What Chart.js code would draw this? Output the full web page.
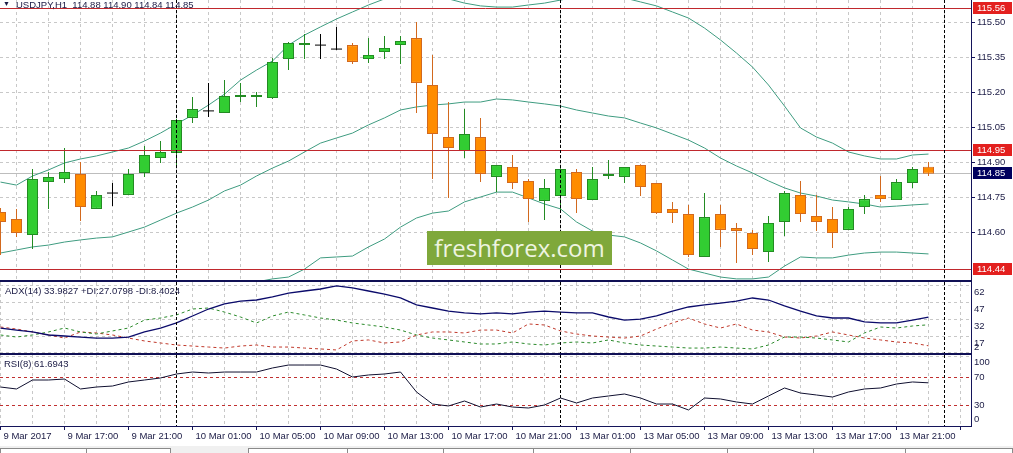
<!DOCTYPE html>
<html>
<head>
<meta charset="utf-8">
<title>USDJPY H1</title>
<script src="https://cdn.jsdelivr.net/npm/chart.js@4/dist/chart.umd.min.js"></script>
<style>
  html, body { margin: 0; padding: 0; background: #fff; }
  #wrap { position: relative; width: 1013px; height: 453px; overflow: hidden; background: #fff;
          font-family: "Liberation Sans", Arial, sans-serif; color: #1b1b45; }
  canvas { position: absolute; left: 0; }
  .txt { position: absolute; font-size: 9.5px; line-height: 12px; white-space: pre; }
  .sep { position: absolute; left: 0; width: 972px; height: 2px; background: #101055; }
  #mark { position: absolute; left: 427px; top: 231px; width: 185px; height: 34px; background: #7fa83b;
          color: #eef4e0; font: 24px "Open Sans", sans-serif; line-height: 33px; text-align: center; }
  #tabs { position: absolute; left: 0; top: 446px; width: 1013px; height: 7px; background: #f0f0f0; }
  .tab { position: absolute; top: 2px; height: 8px; border: 1px solid #8a8a8a; border-bottom: none; background: #fff; box-sizing: border-box; }
</style>
</head>
<body>
<div id="wrap">
  <canvas id="main" width="1013" height="280" style="top:0"></canvas>
  <canvas id="adx" width="1013" height="72" style="top:282px"></canvas>
  <canvas id="rsi" width="1013" height="90" style="top:355px"></canvas>
  <div class="sep" style="top:280px"></div>
  <div class="sep" style="top:353px"></div>
  <div class="txt" style="left:3px;top:-2px;font-size:7px">▼</div>
  <div class="txt" style="left:16px;top:-1px">USDJPY,H1  114.88 114.90 114.84 114.85</div>
  <div class="txt" style="left:5px;top:285px">ADX(14) 33.9827 +DI:27.0798 -DI:8.4024</div>
  <div class="txt" style="left:4px;top:358px">RSI(8) 61.6943</div>
  <div id="mark">freshforex.com</div>
  <div id="tabs">
    <div class="tab" style="left:0;width:87px"></div>
    <div class="tab" style="left:86px;width:85px"></div>
    <div class="tab" style="left:248px;width:100px"></div>
    <div class="tab" style="left:347px;width:97px"></div>
    <div class="tab" style="left:443px;width:91px"></div>
    <div class="tab" style="left:533px;width:98px"></div>
    <div class="tab" style="left:630px;width:98px"></div>
    <div class="tab" style="left:727px;width:87px"></div>
    <div class="tab" style="left:813px;width:93px"></div>
    <div class="tab" style="left:905px;width:108px"></div>
  </div>
</div>
<script>
// bars: 9 Mar 13:00 ... 13 Mar 23:00 (H1), one tick label every 4 bars
const xTickLabels = ["9 Mar 2017", "9 Mar 17:00", "9 Mar 21:00", "10 Mar 01:00", "10 Mar 05:00",
  "10 Mar 09:00", "10 Mar 13:00", "10 Mar 17:00", "10 Mar 21:00", "13 Mar 01:00", "13 Mar 05:00",
  "13 Mar 09:00", "13 Mar 13:00", "13 Mar 17:00", "13 Mar 21:00"];
const daySeparators = [11, 35, 59];

const opens = [114.686,114.656,114.587,114.814,114.827,114.849,114.699,114.767,114.759,114.853,114.917,114.939,115.089,115.119,115.110,115.179,115.179,115.174,115.341,115.401,115.401,115.384,115.401,115.341,115.371,115.401,115.431,115.230,115.007,114.947,115.007,114.836,114.879,114.819,114.733,114.754,114.857,114.737,114.840,114.836,114.887,114.810,114.699,114.677,114.493,114.677,114.617,114.596,114.514,114.643,114.759,114.669,114.656,114.609,114.707,114.759,114.737,114.810,114.880];
const highs = [114.703,114.699,114.870,114.857,114.960,114.900,114.776,114.810,114.870,114.969,114.990,115.085,115.179,115.239,115.251,115.239,115.200,115.346,115.414,115.449,115.449,115.479,115.410,115.431,115.440,115.440,115.500,115.359,115.157,115.127,115.089,114.887,114.930,114.827,114.827,114.873,114.870,114.879,114.909,114.879,114.890,114.810,114.729,114.716,114.767,114.716,114.639,114.609,114.669,114.776,114.819,114.759,114.707,114.707,114.759,114.840,114.827,114.879,114.900];
const lows = [114.501,114.579,114.527,114.699,114.810,114.647,114.699,114.711,114.757,114.836,114.896,114.874,115.067,115.093,115.110,115.157,115.136,115.170,115.294,115.341,115.341,115.380,115.320,115.324,115.341,115.320,115.110,114.827,114.746,114.917,114.814,114.771,114.784,114.643,114.651,114.694,114.681,114.737,114.827,114.810,114.754,114.677,114.639,114.493,114.493,114.536,114.467,114.501,114.471,114.583,114.643,114.604,114.531,114.609,114.677,114.729,114.737,114.789,114.840];
const closes = [114.643,114.596,114.827,114.836,114.857,114.707,114.759,114.767,114.849,114.930,114.943,115.080,115.127,115.119,115.183,115.187,115.187,115.329,115.410,115.410,115.401,115.384,115.329,115.359,115.389,115.419,115.239,115.020,114.960,115.020,114.849,114.887,114.810,114.741,114.789,114.870,114.741,114.827,114.849,114.879,114.793,114.681,114.681,114.501,114.664,114.609,114.604,114.527,114.639,114.767,114.677,114.643,114.596,114.699,114.741,114.741,114.814,114.870,114.850];

const bbUpper = [114.814,114.801,114.840,114.866,114.896,114.913,114.926,114.943,114.960,114.990,115.024,115.063,115.101,115.144,115.191,115.251,115.294,115.333,115.401,115.444,115.479,115.513,115.543,115.573,115.599,115.620,115.629,115.620,115.599,115.581,115.569,115.564,115.564,115.573,115.581,115.594,115.607,115.616,115.611,115.603,115.586,115.569,115.543,115.517,115.474,115.423,115.367,115.307,115.230,115.140,115.046,115.007,114.981,114.943,114.926,114.913,114.913,114.930,114.934];
const bbMiddle = [114.510,114.523,114.536,114.544,114.557,114.566,114.574,114.579,114.600,114.621,114.651,114.681,114.707,114.737,114.776,114.801,114.840,114.874,114.904,114.943,114.981,115.003,115.024,115.059,115.089,115.123,115.136,115.144,115.149,115.157,115.157,115.170,115.166,115.157,115.149,115.140,115.123,115.110,115.097,115.089,115.067,115.046,115.020,114.994,114.960,114.917,114.883,114.853,114.819,114.789,114.767,114.754,114.737,114.729,114.720,114.707,114.711,114.716,114.720];
const bbLower = [114.206,114.244,114.231,114.223,114.219,114.219,114.223,114.214,114.240,114.253,114.279,114.300,114.313,114.330,114.351,114.360,114.386,114.399,114.407,114.441,114.489,114.493,114.497,114.536,114.570,114.621,114.660,114.681,114.690,114.729,114.750,114.771,114.771,114.746,114.720,114.699,114.643,114.604,114.587,114.579,114.553,114.519,114.480,114.441,114.424,114.407,114.399,114.399,114.407,114.454,114.493,114.489,114.489,114.501,114.510,114.514,114.514,114.510,114.506];

const adxMain = [24.2,22.4,20.7,18.0,17.1,16.2,15.3,15.3,16.2,20.7,24.2,28.7,34.9,41.1,45.6,48.2,49.1,51.8,55.3,57.1,58.9,61.6,59.8,57.1,54.4,50.9,44.7,42.0,39.3,37.6,36.7,37.6,36.7,38.4,39.3,38.4,37.6,37.6,34.0,31.3,32.2,34.9,39.3,42.9,44.7,46.4,48.2,50.9,49.1,43.8,39.3,34.9,33.1,33.1,29.6,28.7,28.7,31.3,33.98];
const plusDI = [18.0,16.2,18.0,20.7,24.2,20.7,18.9,21.6,24.2,31.3,33.1,35.8,41.1,42.0,38.4,34.0,28.7,34.9,38.4,35.8,33.1,31.3,28.7,26.9,25.1,22.4,18.0,15.3,13.6,11.8,10.0,10.0,11.8,10.0,9.1,10.9,11.8,10.9,13.6,10.9,9.1,8.2,7.3,6.4,6.4,7.3,6.4,5.6,9.1,16.2,16.2,15.3,13.6,11.8,19.8,25.1,24.2,26.0,27.08];
const minusDI = [25.1,23.3,20.7,18.0,15.3,20.7,19.8,18.0,15.3,12.7,10.9,9.1,8.2,7.3,6.4,8.2,9.1,7.3,7.3,6.4,5.6,4.7,12.7,13.6,10.9,11.8,18.0,20.7,20.7,19.8,22.4,22.4,19.8,27.8,26.9,21.6,18.9,17.1,16.2,15.3,17.1,23.3,28.7,33.1,27.8,24.2,27.8,22.4,20.7,16.2,15.3,17.1,20.7,18.0,15.3,13.6,11.8,10.9,8.40];
const rsi = [55.7,52.9,65.7,65.7,67.1,52.9,55.7,57.1,62.9,65.7,68.6,74.3,77.1,75.7,77.1,77.1,77.1,82.9,87.1,87.1,87.1,81.4,70.0,72.9,74.3,77.1,48.6,31.4,28.6,35.7,27.1,31.4,27.1,25.7,30.0,40.0,32.9,40.0,42.9,45.7,40.0,31.4,31.4,22.9,40.0,38.6,34.3,31.4,42.9,54.3,47.1,44.3,41.4,48.6,52.9,54.3,60.0,62.9,61.69];

const priceTicks = [115.50, 115.35, 115.20, 115.05, 114.90, 114.75, 114.60];
const levelLines = [115.56, 114.95, 114.44];
const lastPrice = 114.85;
const adxTicks = [62, 47, 32, 17, 2];
const rsiTicks = [100, 70, 30, 0];
const rsiLevels = [70, 30];

const NAVY = "#14145a", GRID = "#c8c8c8", TXT = "#1b1b45";
const UP_FILL = "#32cd32", UP_LINE = "#238b23", DN_FILL = "#ff8c00", DN_LINE = "#d2691e";
const BAND = "#3f9c80", LEVEL = "#c0282d";
const FONT = { family: '"Liberation Sans", Arial, sans-serif', size: 9.5 };
const CSS_FONT = '9.5px "Liberation Sans", Arial, sans-serif';
const X_MIN = -1 / 32, X_MAX = X_MIN + 971 / 16;

const idx = opens.map((_, i) => i);
const pts = arr => arr.map((v, i) => ({ x: i, y: v }));
const bodyIdx = idx.filter(i => opens[i] !== closes[i]);
const dojiIdx = idx.filter(i => opens[i] === closes[i]);

function xAxis(withLabels) {
  return {
    type: "linear", min: X_MIN, max: X_MAX, offset: false,
    afterBuildTicks: s => { s.ticks = []; for (let v = 0; v <= 60; v += 2) s.ticks.push({ value: v }); },
    afterFit: s => { s.height = withLabels ? 19 : 0; s.paddingLeft = 0; s.paddingRight = 0; },
    grid: { color: GRID, drawTicks: withLabels, tickLength: 4, tickBorderDash: [],
            tickColor: c => (c.tick && c.tick.value % 4 === 0) ? NAVY : "rgba(0,0,0,0)" },
    border: { display: withLabels, color: NAVY, width: 1, dash: [3, 3] },
    ticks: { display: withLabels, autoSkip: false, maxRotation: 0, minRotation: 0, align: "start",
             labelOffset: 3, padding: 1, color: TXT, font: FONT,
             callback: v => (v % 4 === 0 && xTickLabels[v / 4]) ? xTickLabels[v / 4] : "" }
  };
}

function rightAxis(min, max, ticks, showLabels) {
  return {
    type: "linear", position: "right", min: min, max: max,
    afterBuildTicks: s => { s.ticks = ticks.map(v => ({ value: v })); },
    afterFit: s => { s.width = 42; s.paddingTop = 0; s.paddingBottom = 0; },
    grid: { color: GRID, drawTicks: showLabels, tickLength: 4, tickColor: NAVY, tickBorderDash: [] },
    border: { display: true, color: NAVY, width: 1, dash: [3, 3] },
    ticks: { display: showLabels, padding: 2, color: TXT, font: FONT, callback: v => v.toFixed(2) }
  };
}

function hline(ctx, a, py, color, dash) {
  const yy = Math.floor(py) + 0.5;
  ctx.save();
  ctx.strokeStyle = color; ctx.lineWidth = 1; ctx.setLineDash(dash);
  ctx.beginPath(); ctx.moveTo(a.left, yy); ctx.lineTo(a.right, yy); ctx.stroke();
  ctx.restore();
}

function drawSeparators(chart) {
  const { ctx, chartArea: a, scales: { x } } = chart;
  ctx.save();
  ctx.strokeStyle = "#000"; ctx.lineWidth = 1; ctx.setLineDash([3, 2]);
  daySeparators.forEach(i => {
    const px = Math.floor(x.getPixelForValue(i)) + 0.5;
    if (px > a.right) return;
    ctx.beginPath(); ctx.moveTo(px, a.top); ctx.lineTo(px, a.bottom); ctx.stroke();
  });
  ctx.restore();
}

function priceBox(ctx, a, py, v, bg) {
  const yy = Math.floor(py);
  ctx.save();
  ctx.fillStyle = bg; ctx.fillRect(a.right + 2, yy - 6, 39, 12);
  ctx.fillStyle = "#fff"; ctx.font = CSS_FONT; ctx.textBaseline = "middle"; ctx.textAlign = "left";
  ctx.fillText(v.toFixed(2), a.right + 6, yy + 0.5);
  ctx.restore();
}

function sideLabels(values, dy) {
  return {
    id: "sideLabels",
    afterDraw(chart) {
      const { ctx, chartArea: a, scales: { y } } = chart;
      ctx.save();
      ctx.fillStyle = TXT; ctx.font = CSS_FONT; ctx.textBaseline = "middle"; ctx.textAlign = "left";
      values.forEach(v => {
        let py = y.getPixelForValue(v) + dy;
        py = Math.min(Math.max(py, a.top + 7), a.bottom - 7);
        ctx.fillText(String(v), a.right + 3, py);
      });
      ctx.restore();
    }
  };
}

const common = {
  responsive: false, animation: false, events: [],
  layout: { padding: 0, autoPadding: false },
  plugins: { legend: { display: false }, tooltip: { enabled: false }, title: { display: false } }
};

// Main price panel
const mainOverlay = {
  id: "mainOverlay",
  beforeDatasetsDraw(chart) {
    const { ctx, chartArea: a, scales: { y } } = chart;
    hline(ctx, a, y.getPixelForValue(lastPrice), "#bdbdbd", []);
  },
  afterDatasetsDraw(chart) {
    const { ctx, chartArea: a, scales: { y } } = chart;
    levelLines.forEach(v => hline(ctx, a, y.getPixelForValue(v), LEVEL, []));
    drawSeparators(chart);
  },
  afterDraw(chart) {
    const { ctx, chartArea: a, scales: { y } } = chart;
    levelLines.forEach(v => priceBox(ctx, a, y.getPixelForValue(v), v, "#e3201f"));
    priceBox(ctx, a, y.getPixelForValue(lastPrice), lastPrice, "#00005e");
  }
};

new Chart(document.getElementById("main"), {
  type: "line",
  data: {
    datasets: [
      { type: "line", data: pts(bbUpper), borderColor: BAND, borderWidth: 1, pointRadius: 0, order: 5 },
      { type: "line", data: pts(bbMiddle), borderColor: BAND, borderWidth: 1, pointRadius: 0, order: 5 },
      { type: "line", data: pts(bbLower), borderColor: BAND, borderWidth: 1, pointRadius: 0, order: 5 },
      {
        type: "bar", data: idx.map(i => ({ x: i, y: [lows[i], highs[i]] })),
        barThickness: 1, grouped: false, inflateAmount: 0, borderWidth: 0,
        backgroundColor: idx.map(i => closes[i] > opens[i] ? UP_LINE : closes[i] < opens[i] ? DN_LINE : "#000"),
        order: 3
      },
      {
        type: "bar", data: bodyIdx.map(i => ({ x: i, y: [opens[i], closes[i]] })),
        barThickness: 11, grouped: false, inflateAmount: 0, borderWidth: 1, borderSkipped: false,
        backgroundColor: bodyIdx.map(i => closes[i] > opens[i] ? UP_FILL : DN_FILL),
        borderColor: bodyIdx.map(i => closes[i] > opens[i] ? UP_LINE : DN_LINE),
        order: 2
      },
      {
        type: "scatter", data: dojiIdx.map(i => ({ x: i, y: opens[i] })),
        pointStyle: "line", pointRadius: 5.5, pointBorderColor: "#000", pointBorderWidth: 1, order: 1
      }
    ]
  },
  options: {
    ...common,
    scales: { x: xAxis(false), y: rightAxis(114.3943, 115.5943, priceTicks, true) }
  },
  plugins: [mainOverlay]
});

// ADX panel
new Chart(document.getElementById("adx"), {
  type: "line",
  data: {
    datasets: [
      { data: pts(adxMain), borderColor: "#0b0b6b", borderWidth: 1.3, pointRadius: 0 },
      { data: pts(plusDI), borderColor: "#2b8a2b", borderWidth: 1, borderDash: [3, 3], pointRadius: 0 },
      { data: pts(minusDI), borderColor: "#c0392b", borderWidth: 1, borderDash: [3, 3], pointRadius: 0 }
    ]
  },
  options: {
    ...common,
    scales: { x: xAxis(false), y: rightAxis(1.11, 65.11, adxTicks, false) }
  },
  plugins: [{ id: "adxSeps", afterDatasetsDraw: drawSeparators }, sideLabels(adxTicks, 7)]
});

// RSI panel
new Chart(document.getElementById("rsi"), {
  type: "line",
  data: {
    datasets: [
      { data: pts(rsi), borderColor: "#101030", borderWidth: 1, pointRadius: 0 }
    ]
  },
  options: {
    ...common,
    scales: { x: xAxis(true), y: rightAxis(0, 101.43, rsiTicks, false) }
  },
  plugins: [{
    id: "rsiLevels",
    beforeDatasetsDraw(chart) {
      const { ctx, chartArea: a, scales: { y } } = chart;
      rsiLevels.forEach(v => hline(ctx, a, y.getPixelForValue(v), "#c03030", [3, 3]));
    },
    afterDatasetsDraw: drawSeparators
  }, sideLabels(rsiTicks, 0)]
});
</script>
</body>
</html>
